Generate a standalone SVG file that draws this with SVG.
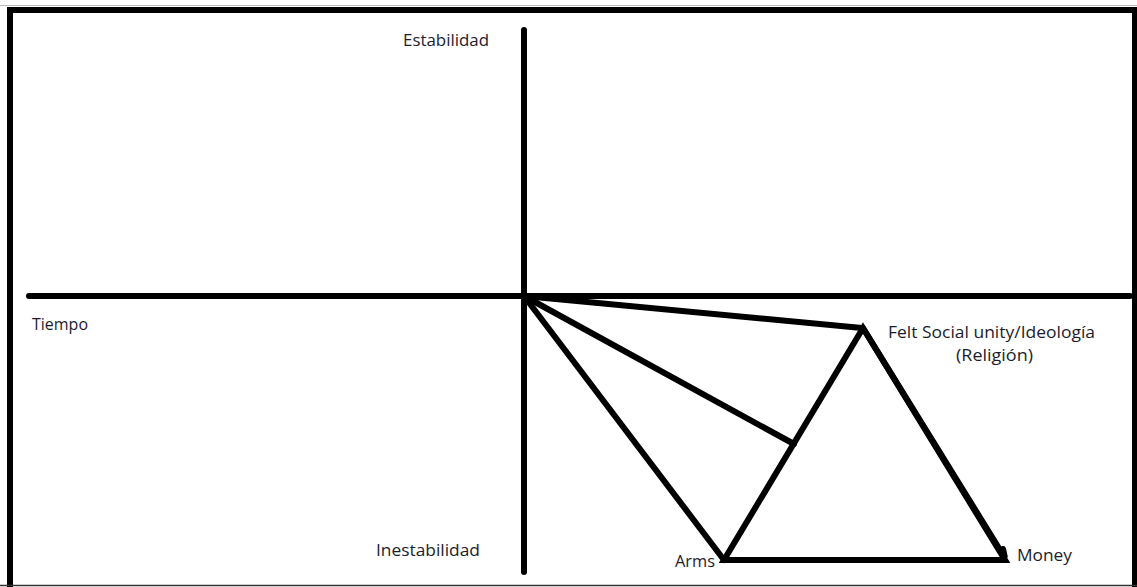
<svg xmlns="http://www.w3.org/2000/svg" width="1137" height="587" viewBox="0 0 1137 587">
<style>
.ln{stroke:#000;stroke-width:6;stroke-linecap:round;stroke-linejoin:miter;fill:none}
.tx{font-family:"Open Sans","Liberation Sans",sans-serif;font-size:15.5px;fill:#1c1c2c}
</style>
<rect width="1137" height="587" fill="#fff"/>
<g id="frame">
<line x1="0" y1="5.5" x2="1137" y2="5.5" stroke="#bbb" stroke-width="1"/>
<path d="M10 587 V10 H1135 V587" fill="none" stroke="#000" stroke-width="6"/>
<line x1="0" y1="585.5" x2="1137" y2="585.5" stroke="#333" stroke-width="1.5"/>
</g>
<g id="connectors">
<line class="ln" x1="524" y1="30" x2="524" y2="572"/>
<line class="ln" x1="29" y1="296" x2="1130" y2="296"/>
<line class="ln" x1="524" y1="296" x2="862" y2="328"/>
<line class="ln" x1="524" y1="296" x2="794" y2="444"/>
<line class="ln" x1="524" y1="296" x2="724" y2="560"/>
<path class="ln" d="M863 328 L724 560 L1005 560 Z"/>
<path class="ln" d="M863 328 L1005 558 L1003 549"/>
</g>
<g id="node-estabilidad"><text class="tx" x="403" y="46" textLength="86" lengthAdjust="spacingAndGlyphs">Estabilidad</text></g>
<g id="node-inestabilidad"><text class="tx" x="376" y="556" textLength="104" lengthAdjust="spacingAndGlyphs">Inestabilidad</text></g>
<g id="node-tiempo"><text class="tx" x="32" y="330" textLength="56" lengthAdjust="spacingAndGlyphs">Tiempo</text></g>
<g id="node-felt"><text class="tx" x="888" y="338" textLength="207" lengthAdjust="spacingAndGlyphs">Felt Social unity/Ideología</text>
<text class="tx" x="956" y="361" textLength="77" lengthAdjust="spacingAndGlyphs">(Religión)</text></g>
<g id="node-arms"><text class="tx" x="675" y="567" textLength="40" lengthAdjust="spacingAndGlyphs">Arms</text></g>
<g id="node-money"><text class="tx" x="1017" y="561" textLength="55" lengthAdjust="spacingAndGlyphs">Money</text></g>
</svg>
